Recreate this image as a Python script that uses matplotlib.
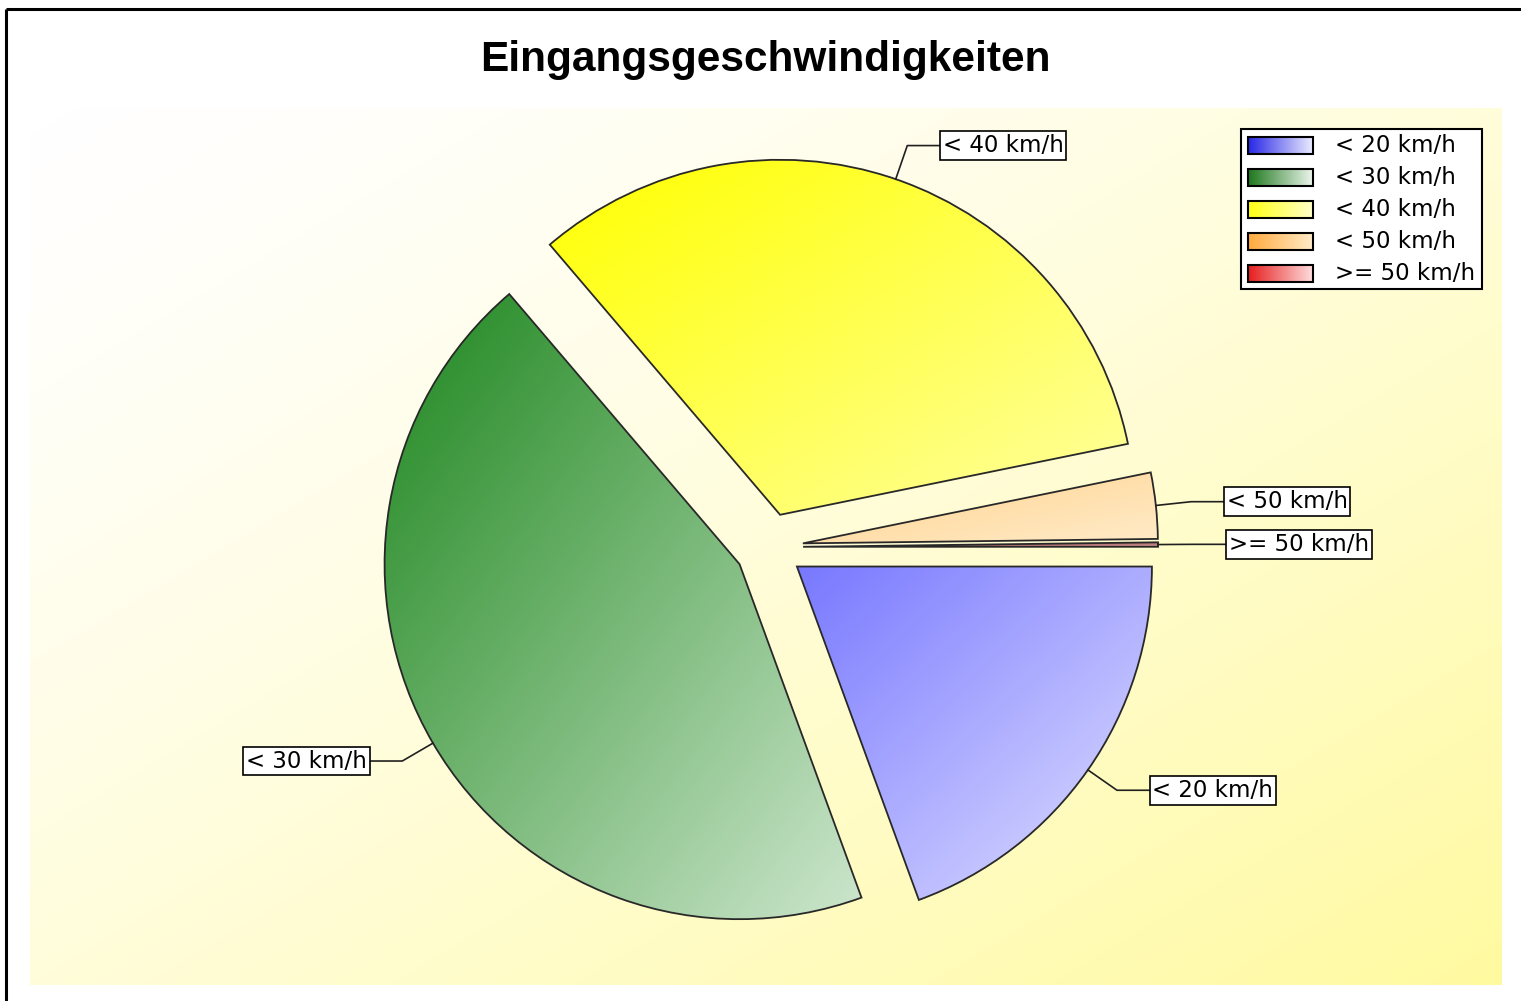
'''Tortendiagramm Eingangsgeschwindigkeiten mit Farbverlaeufen'''

import numpy as np
import matplotlib.pyplot as plt
from matplotlib.colors import LinearSegmentedColormap
from matplotlib.patches import Rectangle

# Daten
labels = ['< 20 km/h', '< 30 km/h', '< 40 km/h', '< 50 km/h', '>= 50 km/h']
anteile = [19.4, 44.3, 33.0, 3.0, 0.2]  # Anteil in %

# Farben der Stuecke (dunkel oben links -> hell unten rechts)
farben_dunkel = ['#7878ff', '#1e871e', '#ffff00', '#ffd28c', '#a03c3c']
farben_hell = ['#e1e1ff', '#cde6cd', '#ffffa0', '#ffebc8', '#c89696']
# Farben der Legende (links -> rechts)
leg_dunkel = ['#2828e6', '#1e781e', '#ffff14', '#ffaa3c', '#e61e1e']
leg_hell = ['#ebebff', '#ebf5eb', '#ffffc8', '#ffebc8', '#ffdcdc']

W, H = 1521, 1001
CX, CY, R = 769, 547, 355   # Mittelpunkt und Radius in Pixel

fig = plt.figure(figsize=(W / 100, H / 100), dpi=100)
fig.patch.set_facecolor('white')

# Hintergrund der Zeichenflaeche (weiss -> hellgelb)
bg = fig.add_axes([30 / W, 1 - 985 / H, (1502 - 30) / W, (985 - 108) / H], zorder=0)
bg.axis('off')
xx, yy = np.meshgrid(np.linspace(0, 1, 300), np.linspace(0, 1, 300))
t_bg = ((xx + yy) / 2) ** 1.35
bg.imshow(t_bg, cmap=LinearSegmentedColormap.from_list('bg', ['#ffffff', '#fffaa0']),
          aspect='auto', extent=(0, 1, 0, 1), origin='upper', interpolation='bilinear')

# Torte
ax = fig.add_axes([0, 0, 1, 1], zorder=2)
wedges, _ = ax.pie(anteile, startangle=0, counterclock=False, explode=[0.096] * len(anteile),
                   colors=farben_dunkel, wedgeprops=dict(edgecolor='#282828', linewidth=1.3))

grad = (xx + yy) / 2
for w, c0, c1 in zip(wedges, farben_dunkel, farben_hell):
    ext = w.get_path().get_extents()
    cm = LinearSegmentedColormap.from_list('g', [c0, c1])
    im = ax.imshow(grad, cmap=cm, extent=(ext.x0, ext.x1, ext.y0, ext.y1), origin='upper',
                   aspect='auto', interpolation='bilinear', zorder=0.5)
    im.set_clip_path(w)
    w.set_facecolor('none')

# Beschriftungen mit Fuehrungslinien
for w, lab in zip(wedges, labels):
    mid = np.deg2rad((w.theta1 + w.theta2) / 2)
    cx, cy = w.center
    x0, y0 = cx + np.cos(mid), cy + np.sin(mid)
    ex, ey = cx + 1.1 * np.cos(mid), cy + 1.1 * np.sin(mid)
    side = 1 if np.cos(mid) >= 0 else -1
    lx = ex + side * 0.1
    ax.plot([x0, ex, lx], [y0, ey, ey], color='#202020', lw=1.2, zorder=3)
    ax.text(lx, ey, lab, ha='left' if side > 0 else 'right', va='center', fontsize=16.5,
            zorder=4, bbox=dict(boxstyle='square,pad=0.12', fc='white', ec='black', lw=1.2))

ax.set_xlim(-CX / R, (W - CX) / R)
ax.set_ylim((CY - H) / R, CY / R)
ax.set_aspect('equal')
ax.axis('off')

# Legende, Rahmen (Pixelkoordinaten)
ov = fig.add_axes([0, 0, 1, 1], zorder=5)
ov.patch.set_alpha(0)
ov.add_patch(Rectangle((1241, 129), 241, 160, fc='white', ec='black', lw=1.5, zorder=1))
for i, (lab, c0, c1) in enumerate(zip(labels, leg_dunkel, leg_hell)):
    y = 145 + 32 * i
    cm = LinearSegmentedColormap.from_list('l', [c0, c1])
    ov.imshow(np.linspace(0, 1, 100)[None, :], cmap=cm, extent=(1248, 1313, y + 8.5, y - 8.5),
              aspect='auto', interpolation='bilinear', zorder=2)
    ov.add_patch(Rectangle((1248, y - 8.5), 65, 17, fc='none', ec='black', lw=1.5, zorder=3))
    ov.text(1335, y, lab, va='center', fontsize=16.5, zorder=3)

ov.plot([6, W], [8.5, 8.5], color='black', lw=2.2, solid_capstyle='butt')
ov.plot([6, 6], [8.5, H], color='black', lw=2.2, solid_capstyle='butt')
ov.set_xlim(0, W)
ov.set_ylim(H, 0)
ov.axis('off')

fig.text(765.5 / W, 1 - 71 / H, 'Eingangsgeschwindigkeiten', ha='center', va='baseline',
         fontsize=30.5, fontweight='bold', family='Liberation Sans')

fig.savefig('out.png', dpi=100)
